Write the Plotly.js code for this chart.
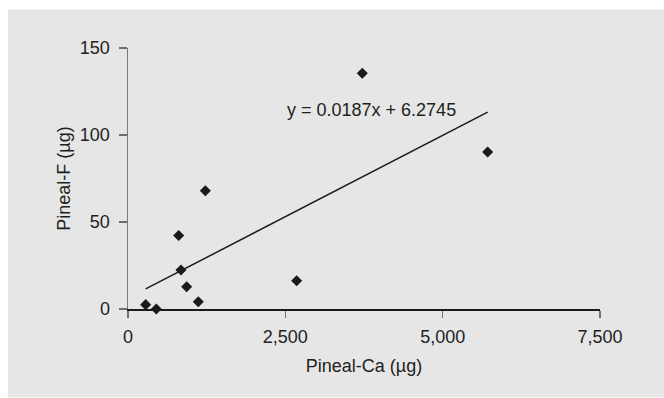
<!DOCTYPE html>
<html>
<head>
<meta charset="utf-8">
<script src="https://cdn.plot.ly/plotly-3.0.1.min.js"></script>
<style>html,body{margin:0;padding:0;background:#fff;}#chart{width:664px;height:398px;}</style>
</head>
<body>
<div id="chart"></div>
<script>
// Data
const pinealCa = [281, 450, 805, 842, 932, 1117, 1229, 2680, 3723, 5715];
const pinealF  = [2.5, 0, 42.2, 22.4, 12.8, 4.2, 68, 16.2, 135.5, 90.2];
const slope = 0.0187;
const intercept = 6.2745;
const xTicks = [0, 2500, 5000, 7500];
const yTicks = [0, 50, 100, 150];
const eqLabel = "y = 0.0187x + 6.2745";

const xMin = Math.min(...pinealCa), xMax = Math.max(...pinealCa);
const trendX = [xMin, xMax];
const trendY = trendX.map(v => slope * v + intercept);

const txt = '#231f20';
const fam = 'Liberation Sans, Arial, Helvetica, sans-serif';
const fs = 18;

const traces = [
  {x: trendX, y: trendY, mode: 'lines', type: 'scatter',
   line: {color: '#1a1a1a', width: 1.5}, hoverinfo: 'skip', cliponaxis: false},
  {x: pinealCa, y: pinealF, mode: 'markers', type: 'scatter',
   marker: {symbol: 'diamond', size: 8.5, color: '#1a1a1a'}, cliponaxis: false}
];

const L = 128, R = 64, T = 47.7, B = 88.7;
const W = 664 - L - R, H = 398 - T - B;

const layout = {
  width: 664, height: 398,
  margin: {l: L, r: R, t: T, b: B, pad: 0},
  paper_bgcolor: '#ffffff',
  plot_bgcolor: 'rgba(0,0,0,0)',
  showlegend: false,
  font: {family: fam, size: fs, color: txt},
  shapes: [{type: 'rect', xref: 'paper', yref: 'paper', layer: 'below',
    x0: (8 - L) / W, x1: (664 - L) / W, y0: -(B) / H, y1: (398 - B - 9) / H,
    fillcolor: '#e6e6e6', line: {width: 0}}],
  xaxis: {
    range: [0, 7500], tickvals: xTicks, tickformat: ',', showgrid: false, zeroline: false,
    showline: true, linecolor: '#1a1a1a', linewidth: 1.5,
    ticks: 'outside', ticklen: 7, tickwidth: 1.2, tickcolor: '#6e6e6e',
    tickfont: {size: fs, color: txt, family: fam}, ticklabelstandoff: 4,
    title: {text: 'Pineal-Ca (\u00b5g)', font: {size: fs, color: txt, family: fam}, standoff: 13}
  },
  yaxis: {
    range: [0, 150], tickvals: yTicks, showgrid: false, zeroline: false,
    showline: true, linecolor: '#7a7a7a', linewidth: 1.5,
    ticks: 'outside', ticklen: 8, tickwidth: 1.2, tickcolor: '#6e6e6e',
    tickfont: {size: fs, color: txt, family: fam}, ticklabelstandoff: 5,
    title: {text: 'Pineal-F (\u00b5g)', font: {size: fs, color: txt, family: fam}, standoff: 4}
  },
  annotations: [{x: 3877, y: 114.3, xref: 'x', yref: 'y', text: eqLabel, showarrow: false,
    font: {size: fs, color: txt, family: fam}, xanchor: 'center', yanchor: 'middle'}]
};

Plotly.newPlot('chart', traces, layout, {displayModeBar: false, staticPlot: true});
</script>
</body>
</html>
